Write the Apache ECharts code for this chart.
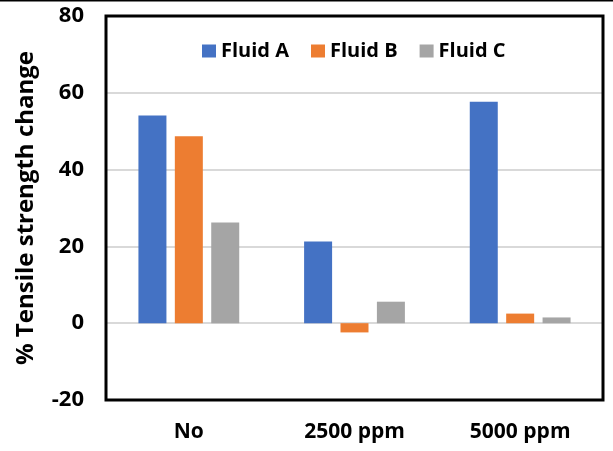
<!DOCTYPE html>
<html>
<head>
<meta charset="utf-8">
<script src="https://cdn.jsdelivr.net/npm/echarts@6/dist/echarts.min.js"></script>
<style>
html,body{margin:0;padding:0;background:#fff;}
#chart{width:613px;height:451px;}
</style>
</head>
<body>
<div id="chart"></div>
<script>
const categories = ['No', '2500 ppm', '5000 ppm'];
const seriesNames = ['Fluid A', 'Fluid B', 'Fluid C'];
const fluidA = [54.1, 21.3, 57.7];
const fluidB = [48.7, -2.4, 2.5];
const fluidC = [26.2, 5.6, 1.5];
const yTicks = { min: -20, max: 80, interval: 20 };
const colors = ['#4472C4', '#ED7D31', '#A5A5A5'];
const FONT = '"Open Sans", "Noto Sans", sans-serif';

const G = { left: 106, top: 16, width: 497, height: 384 };
const chart = echarts.init(document.getElementById('chart'));
const seriesData = [fluidA, fluidB, fluidC];
chart.setOption({
  animation: false,
  backgroundColor: '#fff',
  graphic: [{
    type: 'rect',
    shape: { x: 0, y: 0, width: 613, height: 1.5 },
    style: { fill: '#000' }
  }, {
    type: 'rect',
    z: 100,
    shape: { x: G.left, y: G.top, width: G.width, height: G.height },
    style: { fill: 'none', stroke: '#000', lineWidth: 3 }
  }],
  grid: { left: G.left, top: G.top, width: G.width, height: G.height },
  legend: {
    data: seriesNames,
    left: 197, top: 36,
    itemWidth: 14, itemHeight: 13, itemGap: 22,
    icon: 'rect',
    textStyle: { fontFamily: FONT, fontSize: 20, fontWeight: 'bold', color: '#000' }
  },
  xAxis: {
    type: 'category',
    data: categories,
    axisLine: { show: false },
    axisTick: { show: false },
    axisLabel: { fontFamily: FONT, fontSize: 21, fontWeight: 'bold', color: '#000', margin: 22 }
  },
  yAxis: {
    type: 'value',
    min: yTicks.min, max: yTicks.max, interval: yTicks.interval,
    name: '% Tensile strength change',
    nameLocation: 'middle',
    nameGap: 68,
    nameTextStyle: { fontFamily: FONT, fontSize: 24, fontWeight: 'bold', color: '#000' },
    axisLine: { show: false },
    axisTick: { show: false },
    axisLabel: { fontFamily: FONT, fontSize: 22, fontWeight: 'bold', color: '#000', margin: 22 },
    splitLine: { lineStyle: { color: '#D9D9D9', width: 2 } }
  },
  series: seriesNames.map((n, i) => ({
    name: n,
    type: 'bar',
    data: seriesData[i],
    barWidth: 28,
    barGap: '30%',
    itemStyle: { color: colors[i] }
  }))
});
</script>
</body>
</html>
